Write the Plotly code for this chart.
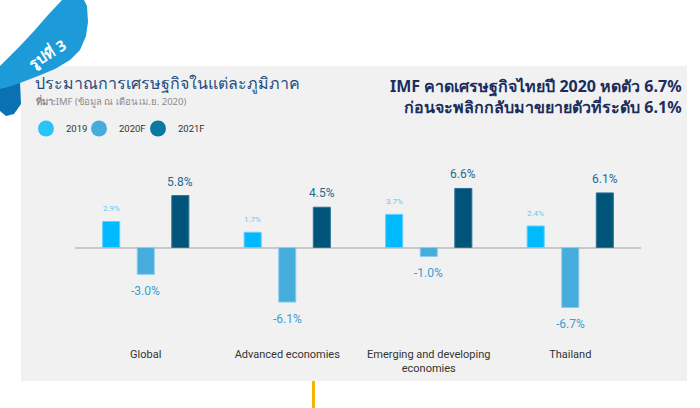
import plotly.graph_objects as go

categories = ["Global", "Advanced economies", "Emerging and developing<br>economies", "Thailand"]
series_names = ["2019", "2020F", "2021F"]
v2019 = [2.9, 1.7, 3.7, 2.4]
v2020 = [-3.0, -6.1, -1.0, -6.7]
v2021 = [5.8, 4.5, 6.6, 6.1]
values = [v2019, v2020, v2021]

bar_colors = ["#00b9ff", "#45acdc", "#005479"]
edge_colors = ["#5fd0ff", "#8ccbeb", "#2a7396"]
legend_colors = ["#2ac4f8", "#45acdc", "#0a78a3"]
label_colors = ["#5ccbf5", "#3a9fd2", "#1f6a93"]
label_sizes = [8, 12, 12]

W, H = 700, 408
L, R, T, B = 75, 59, 150, 68
PW, PH = W - L - R, H - T - B
ZERO_PX, PX_PER = 247.5, 8.95
y_top = (ZERO_PX - T) / PX_PER
y_bot = -(T + PH - ZERO_PX) / PX_PER


def px(x):
    return (x - L) / PW


def py(y):
    return (H - B - y) / PH


legend_ids = ["legend", "legend2", "legend3"]
legend_px = [26, 79, 138]

fig = go.Figure()
for i, name in enumerate(series_names):
    fig.add_trace(go.Bar(
        x=categories, y=values[i], name=name, showlegend=False,
        marker=dict(color=bar_colors[i], line=dict(color=edge_colors[i], width=1)),
    ))
for i, name in enumerate(series_names):
    fig.add_trace(go.Scatter(
        x=[None], y=[None], mode="markers", name=name, legend=legend_ids[i],
        marker=dict(color=legend_colors[i], size=16, symbol="circle"),
    ))

offsets = [-34.5, 0, 34.5]
annotations = []
for i in range(3):
    for c, v in zip(categories, values[i]):
        annotations.append(dict(
            x=c, y=v, xref="x", yref="y", xshift=offsets[i],
            yshift=(14 if v >= 0 else -17) if i != 0 else 13,
            text=f"{v:.1f}%", showarrow=False,
            font=dict(size=label_sizes[i], color=label_colors[i], family="Roboto"),
        ))

annotations += [
    dict(x=px(33), y=py(83), xref="paper", yref="paper", xanchor="left", yanchor="middle",
         text="ประมาณการเศรษฐกิจในแต่ละภูมิภาค", showarrow=False,
         font=dict(size=16, color="#1f4d7e", family="Noto Sans")),
    dict(x=px(34), y=py(101), xref="paper", yref="paper", xanchor="left", yanchor="middle",
         text="<b>ที่มา:</b>IMF (ข้อมูล ณ เดือน เม.ย. 2020)", showarrow=False,
         font=dict(size=9.5, color="#8c8c8c", family="Noto Sans")),
    dict(x=px(684), y=py(96), xref="paper", yref="paper", xanchor="right", yanchor="middle",
         align="right",
         text="<b>IMF คาดเศรษฐกิจไทยปี 2020 หดตัว 6.7%</b><br><b>ก่อนจะพลิกกลับมาขยายตัวที่ระดับ 6.1%</b>",
         showarrow=False, font=dict(size=16, color="#1b2d5c", family="Noto Sans")),
    dict(x=px(47), y=py(54), xref="paper", yref="paper", xanchor="center", yanchor="middle",
         text="<b>รูปที่ 3</b>", textangle=-32, showarrow=False,
         font=dict(size=15, color="#ffffff", family="Noto Sans")),
]


def path(points):
    return "M " + " L ".join(f"{px(a)},{py(b)}" for a, b in points) + " Z"


shapes = [
    dict(type="rect", xref="paper", yref="paper", x0=px(21), x1=px(687), y0=py(66), y1=py(381),
         fillcolor="#f1f1f1", line=dict(width=0), layer="below"),
    dict(type="path", xref="paper", yref="paper",
         path=path([(0, 70), (20, 80), (21, 104), (14, 114), (6, 116), (0, 111)]),
         fillcolor="#0a72b2", line=dict(width=0)),
    dict(type="path", xref="paper", yref="paper",
         path=path([(62, 0), (84, 0), (87, 6), (88, 22), (86, 36), (80, 50), (70, 60), (55, 69),
                    (38, 76), (20, 83), (8, 87), (0, 89),
                    (0, 66), (8, 58), (20, 46), (34, 31), (48, 15)]),
         fillcolor="#1d9bd9", line=dict(width=0)),
    dict(type="line", xref="paper", yref="paper", x0=px(313.5), x1=px(313.5), y0=py(381), y1=py(408),
         line=dict(color="#f4b400", width=3)),
]

legend_common = dict(orientation="h", y=py(114), xanchor="left", yanchor="top",
                     bgcolor="rgba(0,0,0,0)", font=dict(size=9.5, color="#333333", family="Roboto"),
                     itemwidth=30)

fig.update_layout(
    width=W, height=H, margin=dict(l=L, r=R, t=T, b=B),
    paper_bgcolor="#ffffff", plot_bgcolor="rgba(0,0,0,0)",
    barmode="group", bargap=0.267, bargroupgap=0.507,
    showlegend=True,
    legend=dict(x=px(legend_px[0]), **legend_common),
    legend2=dict(x=px(legend_px[1]), **legend_common),
    legend3=dict(x=px(legend_px[2]), **legend_common),
    xaxis=dict(showgrid=False, showline=False, ticks="", ticklabelstandoff=6,
               tickfont=dict(size=11, color="#333333", family="Roboto")),
    yaxis=dict(range=[y_bot, y_top], showgrid=False, showticklabels=False, zeroline=True,
               zerolinecolor="#c8c8c8", zerolinewidth=2),
    annotations=annotations, shapes=shapes,
)

fig.write_html("out.html", config={"displayModeBar": False},
               post_script="document.body.style.margin='0';")
